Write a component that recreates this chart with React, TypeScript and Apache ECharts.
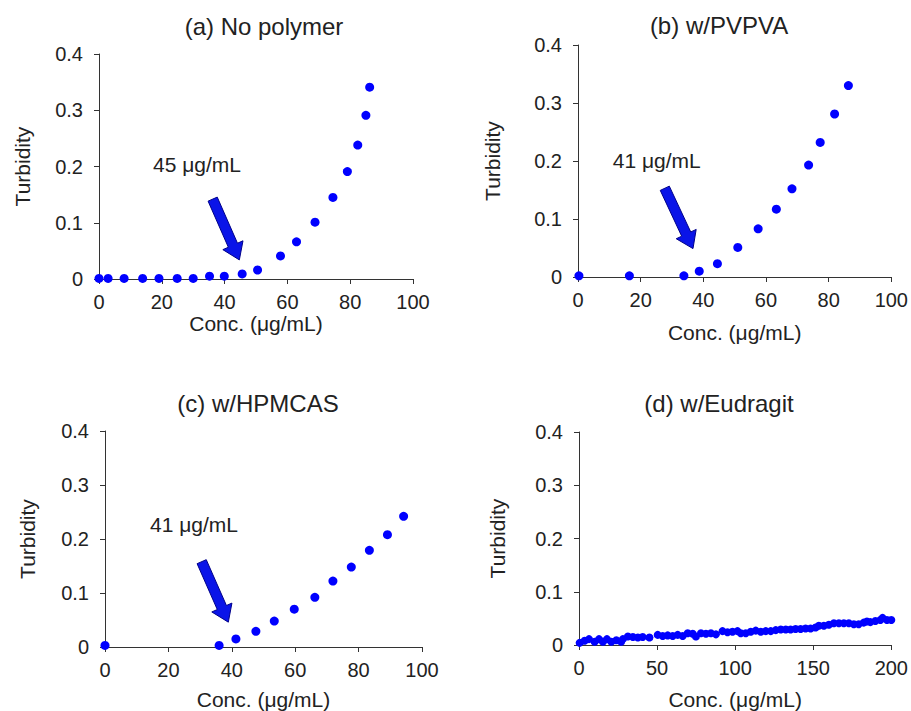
import React, { useEffect, useRef } from "react";
import * as echarts from "echarts";

// Panel titles
const panelTitles = ["(a) No polymer", "(b) w/PVPVA", "(c) w/HPMCAS", "(d) w/Eudragit"];

// (a) No polymer
const concA = [0, 2.9, 8, 13.9, 19.1, 24.9, 30, 35.2, 39.9, 45.6, 50.5, 57.8, 62.9, 68.8, 74.5, 79.1, 82.4, 85, 86.2];
const turbA = [0.001, 0.001, 0.001, 0.001, 0.001, 0.001, 0.001, 0.005, 0.005, 0.009, 0.016, 0.041, 0.066, 0.101, 0.145, 0.191, 0.238, 0.291, 0.341];

// (b) w/PVPVA
const concB = [0.3, 16.4, 33.8, 38.7, 44.5, 51, 57.5, 63.3, 68.3, 73.6, 77.3, 81.9, 86.3];
const turbB = [0.002, 0.002, 0.002, 0.01, 0.023, 0.051, 0.083, 0.117, 0.152, 0.193, 0.232, 0.281, 0.33];

// (c) w/HPMCAS
const concC = [0, 36, 41.3, 47.6, 53.4, 59.7, 66.2, 71.9, 77.7, 83.4, 89.1, 94.2];
const turbC = [0.003, 0.003, 0.015, 0.029, 0.048, 0.07, 0.092, 0.122, 0.148, 0.179, 0.208, 0.242];

// (d) w/Eudragit
const concD = [
  0.4, 3.6, 6.4, 10, 12.8, 15.3, 17.9, 20.7, 23.9, 27, 28.1, 31.3, 34.5, 37.7, 40.8, 45.1,
  50.4, 53.6, 56.8, 60, 63.2, 66.4, 69.6, 72.8, 74.9, 78.1, 81.3, 84.5, 87.7, 91.9, 95.1,
  98.3, 101.5, 103.6, 106.8, 110, 113.2, 116.4, 119.6, 122.8, 126, 129.2, 132.4, 135.5,
  138.7, 141.9, 145.1, 148.3, 151.5, 153.6, 156.8, 160, 163.2, 166.4, 169.6, 172.8, 176,
  179.1, 182.3, 184.4, 186.6, 189.8, 193, 194.4, 197.2, 200,
];
const turbD = [
  0.004, 0.008, 0.011, 0.006, 0.011, 0.006, 0.011, 0.006, 0.009, 0.006, 0.011, 0.016, 0.015, 0.014, 0.015, 0.014,
  0.019, 0.017, 0.018, 0.017, 0.019, 0.017, 0.022, 0.021, 0.016, 0.022, 0.021, 0.022, 0.02, 0.026, 0.024,
  0.025, 0.026, 0.022, 0.022, 0.025, 0.027, 0.025, 0.026, 0.026, 0.028, 0.029, 0.029, 0.029,
  0.03, 0.03, 0.031, 0.031, 0.033, 0.036, 0.036, 0.038, 0.041, 0.041, 0.041, 0.041, 0.039,
  0.039, 0.042, 0.044, 0.043, 0.045, 0.047, 0.051, 0.047, 0.047,
];

// Onset arrows for panels a, b, c: tail and tip in data units, plus label anchor
const arrowTail = [[36.2, 0.142], [27.7, 0.153], [30.5, 0.158]];
const arrowTip = [[44.7, 0.034], [36.7, 0.049], [38.9, 0.046]];
const onsetLabels = ["45 μg/mL", "41 μg/mL", "41 μg/mL"];
const onsetLabelPos = [[17.2, 0.203], [11.1, 0.2015], [14.2, 0.226]];

// Axis ranges and names
const xMax = [100, 100, 100, 200];
const xInterval = [20, 20, 20, 50];
const yTicks = [0, 0.1, 0.2, 0.3, 0.4];
const xName = "Conc. (μg/mL)";
const yName = "Turbidity";

const FONT = "'Liberation Sans', Arial, sans-serif";
const TEXT = "#222";
const AXIS = "#333";

const grids = [
  { left: 99, top: 54, width: 314, height: 225 },
  { left: 578, top: 45, width: 314, height: 232 },
  { left: 105, top: 431, width: 317, height: 216 },
  { left: 579, top: 432, width: 314, height: 213 },
];
const xNameGaps = [27, 45, 42, 44];
const yNameGaps = [66, 75, 67, 71];
const titlePos = [[264, 26], [719, 25], [258, 403], [719, 403]];

export default function App() {
  const ref = useRef<HTMLDivElement>(null);

  useEffect(() => {
    if (!ref.current) return;
    const chart = echarts.init(ref.current, null, { renderer: "svg" });

    const concs = [concA, concB, concC, concD];
    const turbs = [turbA, turbB, turbC, turbD];

    const xAxes = grids.map((_, i) => ({
      type: "value",
      gridIndex: i,
      min: 0,
      max: xMax[i],
      interval: xInterval[i],
      name: xName,
      nameLocation: "middle",
      nameGap: xNameGaps[i],
      nameTextStyle: { fontSize: 21, color: TEXT, fontFamily: FONT },
      axisLine: { show: true, lineStyle: { color: AXIS, width: 1 } },
      axisTick: { show: true, inside: false, length: 5, lineStyle: { color: AXIS } },
      axisLabel: { fontSize: 20, color: TEXT, fontFamily: FONT, margin: 13 },
      splitLine: { show: false },
    }));

    const yAxes = grids.map((_, i) => ({
      type: "value",
      gridIndex: i,
      min: yTicks[0],
      max: yTicks[yTicks.length - 1],
      interval: 0.1,
      name: yName,
      nameLocation: "middle",
      nameGap: yNameGaps[i],
      nameTextStyle: { fontSize: 21, color: TEXT, fontFamily: FONT },
      axisLine: { show: true, onZero: false, lineStyle: { color: AXIS, width: 1 } },
      axisTick: { show: true, inside: false, length: 5, lineStyle: { color: AXIS } },
      axisLabel: { fontSize: 20, color: TEXT, fontFamily: FONT, margin: 16 },
      splitLine: { show: false },
    }));

    const scatterSeries = concs.map((c, i) => ({
      type: "scatter",
      xAxisIndex: i,
      yAxisIndex: i,
      symbol: "circle",
      symbolSize: i === 3 ? 8 : 9,
      itemStyle: { color: "#0000ff", opacity: 1 },
      data: c.map((x, k) => [x, turbs[i][k]]),
      silent: true,
    }));

    const arrowSeries = arrowTail.map((tail, i) => ({
      type: "custom",
      xAxisIndex: i,
      yAxisIndex: i,
      clip: false,
      silent: true,
      data: [[tail[0], tail[1], arrowTip[i][0], arrowTip[i][1], onsetLabelPos[i][0], onsetLabelPos[i][1]]],
      encode: { x: [0, 2], y: [1, 3] },
      renderItem: (_params: any, api: any) => {
        const t = api.coord([api.value(0), api.value(1)]);
        const p = api.coord([api.value(2), api.value(3)]);
        const lab = api.coord([api.value(4), api.value(5)]);
        const dx = p[0] - t[0];
        const dy = p[1] - t[1];
        const len = Math.hypot(dx, dy);
        const ux = dx / len;
        const uy = dy / len;
        const nx = -uy;
        const ny = ux;
        const shaft = 5;
        const head = 11;
        const headLen = 16;
        const bx = p[0] - ux * headLen;
        const by = p[1] - uy * headLen;
        const points = [
          [t[0] + nx * shaft, t[1] + ny * shaft],
          [bx + nx * shaft, by + ny * shaft],
          [bx + nx * head, by + ny * head],
          [p[0], p[1]],
          [bx - nx * head, by - ny * head],
          [bx - nx * shaft, by - ny * shaft],
          [t[0] - nx * shaft, t[1] - ny * shaft],
        ];
        return {
          type: "group",
          children: [
            {
              type: "polygon",
              shape: { points },
              style: { fill: "#0a14e8", stroke: "#00008a", lineWidth: 1 },
            },
            {
              type: "text",
              x: lab[0],
              y: lab[1],
              style: {
                text: onsetLabels[i],
                fontSize: 21,
                fontFamily: FONT,
                fill: TEXT,
                align: "left",
                verticalAlign: "middle",
              },
            },
          ],
        };
      },
    }));

    chart.setOption({
      animation: false,
      backgroundColor: "#ffffff",
      grid: grids.map((g) => ({ ...g, containLabel: false })),
      xAxis: xAxes,
      yAxis: yAxes,
      graphic: panelTitles.map((t, i) => ({
        type: "text",
        x: titlePos[i][0],
        y: titlePos[i][1],
        silent: true,
        style: {
          text: t,
          fontSize: 24,
          fontFamily: FONT,
          fill: TEXT,
          align: "center",
          verticalAlign: "middle",
        },
      })),
      series: [...scatterSeries, ...arrowSeries],
    });

    return () => chart.dispose();
  }, []);

  return (
    <div
      ref={ref}
      style={{ position: "absolute", left: 0, top: 0, width: 911, height: 711, background: "#fff" }}
    />
  );
}
